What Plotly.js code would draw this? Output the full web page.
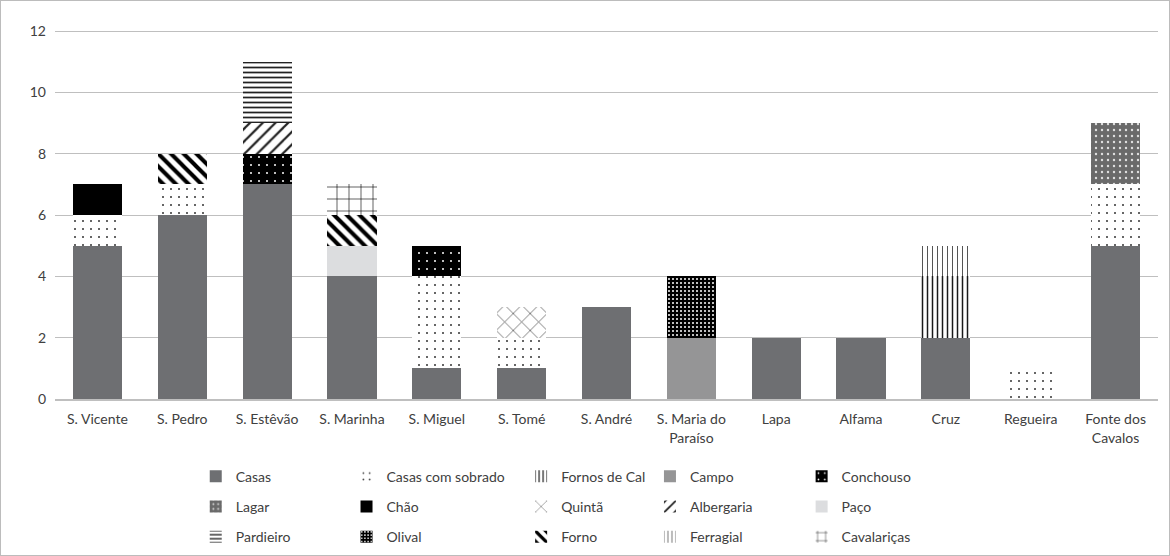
<!DOCTYPE html>
<html>
<head>
<meta charset="utf-8">
<script src="https://cdn.plot.ly/plotly-3.0.1.min.js"></script>
<style>
  html, body { margin: 0; padding: 0; background: #fff; }
  #wrap { position: relative; width: 1170px; height: 556px; }
  #chart { width: 1170px; height: 556px; }
  #frame { position: absolute; left: 0; top: 0; width: 1168px; height: 554px; border: 1px solid #bcbcbc; pointer-events: none; }
</style>
</head>
<body>
<div id="wrap"><div id="chart"></div><div id="frame"></div></div>
<script>
// ---- data ----
const categories = ["S. Vicente","S. Pedro","S. Estêvão","S. Marinha","S. Miguel","S. Tomé","S. André","S. Maria do Paraíso","Lapa","Alfama","Cruz","Regueira","Fonte dos Cavalos"];
const tickLabels = ["S. Vicente","S. Pedro","S. Estêvão","S. Marinha","S. Miguel","S. Tomé","S. André","S. Maria do<br>Paraíso","Lapa","Alfama","Cruz","Regueira","Fonte dos<br>Cavalos"];
const seriesNames = ["Casas","Casas com sobrado","Fornos de Cal","Campo","Conchouso","Lagar","Chão","Quintã","Albergaria","Paço","Pardieiro","Olival","Forno","Ferragial","Cavalariças"];
const casas        = [5,6,7,4,1,1,3,0,2,2,2,0,5];
const casasSobrado = [1,1,0,0,3,1,0,0,0,0,0,1,2];
const fornosDeCal  = [0,0,0,0,0,0,0,0,0,0,2,0,0];
const campo        = [0,0,0,0,0,0,0,2,0,0,0,0,0];
const conchouso    = [0,0,1,0,1,0,0,0,0,0,0,0,0];
const lagar        = [0,0,0,0,0,0,0,0,0,0,0,0,2];
const chao         = [1,0,0,0,0,0,0,0,0,0,0,0,0];
const quinta       = [0,0,0,0,0,1,0,0,0,0,0,0,0];
const albergaria   = [0,0,1,0,0,0,0,0,0,0,0,0,0];
const paco         = [0,0,0,1,0,0,0,0,0,0,0,0,0];
const pardieiro    = [0,0,2,0,0,0,0,0,0,0,0,0,0];
const olival       = [0,0,0,0,0,0,0,2,0,0,0,0,0];
const forno        = [0,1,0,1,0,0,0,0,0,0,0,0,0];
const ferragial    = [0,0,0,0,0,0,0,0,0,0,1,0,0];
const cavalaricas  = [0,0,0,1,0,0,0,0,0,0,0,0,0];
const seriesValues = [casas,casasSobrado,fornosDeCal,campo,conchouso,lagar,chao,quinta,albergaria,paco,pardieiro,olival,forno,ferragial,cavalaricas];

// ---- styles ----
const styles = [
  {color:"#6e6f72"},
  {color:"#ffffff", pattern:{shape:".", fgcolor:"#333", bgcolor:"#ffffff", size:8, solidity:0.05}},
  {color:"#ffffff", pattern:{shape:"|", fgcolor:"#1a1a1a", bgcolor:"#ffffff", size:5, solidity:0.3}},
  {color:"#959596"},
  {color:"#000000", pattern:{shape:".", fgcolor:"#ffffff", bgcolor:"#000000", size:8, solidity:0.05}},
  {color:"#707070", pattern:{shape:".", fgcolor:"#e0e0e0", bgcolor:"#6a6a6a", size:6, solidity:0.12}},
  {color:"#000000"},
  {color:"#ffffff", pattern:{shape:"x", fgcolor:"#555", bgcolor:"#ffffff", size:12, solidity:0.12}},
  {color:"#ffffff", pattern:{shape:"/", fgcolor:"#222", bgcolor:"#ffffff", size:9, solidity:0.25}},
  {color:"#dcdddf"},
  {color:"#ffffff", pattern:{shape:"-", fgcolor:"#222", bgcolor:"#ffffff", size:5, solidity:0.35}},
  {color:"#000000", pattern:{shape:".", fgcolor:"#ffffff", bgcolor:"#000000", size:4, solidity:0.2}},
  {color:"#ffffff", pattern:{shape:"\\", fgcolor:"#000", bgcolor:"#ffffff", size:9, solidity:0.45}},
  {color:"#ffffff", pattern:{shape:"|", fgcolor:"#555", bgcolor:"#ffffff", size:5, solidity:0.2}},
  {color:"#ffffff", pattern:{shape:"+", fgcolor:"#000", bgcolor:"#ffffff", size:12, solidity:0.1}}
];

// legend columns (5) x 3 rows, in series order row by row
const legendIds = ["legend","legend2","legend3","legend4","legend5"];

const traces = seriesNames.map((name, i) => {
  const m = {color: styles[i].color, line:{width:0}};
  if (styles[i].pattern) m.pattern = Object.assign({fillmode:"replace"}, styles[i].pattern);
  return {
    type:"bar", name:name, x:categories, y:seriesValues[i],
    marker:m, legend: legendIds[i % 5], legendgroup:"g"+i,
    hoverinfo:"x+y+name"
  };
});

const font = {family:"Lato, 'Liberation Sans', sans-serif", size:14, color:"#404040"};
const colX = [0.1276, 0.2643, 0.4226, 0.5394, 0.6769];
const layout = {
  width:1170, height:556,
  margin:{l:55, r:12, t:25, b:157, autoexpand:false},
  paper_bgcolor:"#ffffff", plot_bgcolor:"#ffffff",
  font:font,
  barmode:"stack", bargap:0.42,
  xaxis:{tickmode:"array", tickvals:categories, ticktext:tickLabels, showgrid:false, showline:true, linecolor:"#bfbfbf", linewidth:1.5, ticks:"", tickfont:font, ticklabelstandoff:7, automargin:false},
  yaxis:{range:[0,12.2], dtick:2, tick0:0, showgrid:true, gridcolor:"#bfbfbf", gridwidth:1, zeroline:false, showline:false, ticks:"", tickfont:font, ticklabelstandoff:8, automargin:false},
  showlegend:true
};
legendIds.forEach((id, k) => {
  layout[id] = {orientation:"v", x:colX[k], xanchor:"left", y:-0.165, yanchor:"top", yref:"paper",
    font:font, tracegroupgap:9, bgcolor:"rgba(0,0,0,0)", traceorder:"grouped", itemwidth:30};
});

Plotly.newPlot("chart", traces, layout, {displayModeBar:false, staticPlot:true});
</script>
</body>
</html>
